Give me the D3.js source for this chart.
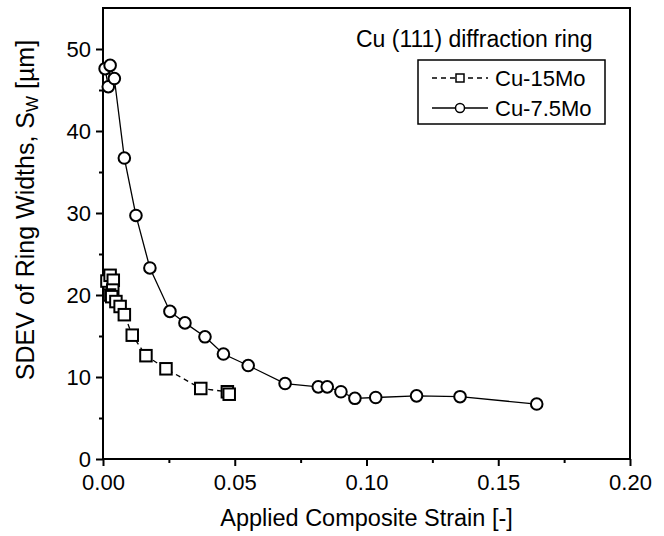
<!DOCTYPE html>
<html>
<head>
<meta charset="utf-8">
<script src="https://cdn.jsdelivr.net/npm/d3@7"></script>
<style>
  body { margin: 0; background: #fff; }
  svg { font-family: "Liberation Sans", Arial, Helvetica, sans-serif; }
</style>
</head>
<body>
<div id="chart"></div>
<script>
// Cu-15Mo (squares, dashed)
const mo15Strain = [0.0015, 0.0027, 0.0039, 0.0037, 0.0025, 0.0033, 0.0049, 0.0065, 0.0081, 0.0111, 0.0163, 0.0239, 0.0371, 0.0472, 0.0479];
const mo15Sdev   = [21.7,   22.4,   21.8,   20.6,   20.0,   19.8,   19.2,   18.6,   17.6,   15.1,   12.6,   11.0,   8.6,    8.2,    7.9];

// Cu-7.5Mo (circles, solid)
const mo75Strain = [0.0008, 0.002, 0.0027, 0.0043, 0.0081, 0.0125, 0.0178, 0.0254, 0.0311, 0.0387, 0.0457, 0.0551, 0.0691, 0.0817, 0.0851, 0.0903, 0.0956, 0.1035, 0.119, 0.1355, 0.1646];
const mo75Sdev   = [47.6,   45.4,  48.0,   46.4,   36.7,   29.7,   23.3,   18.0,   16.6,   14.9,   12.8,   11.4,   9.2,    8.8,    8.8,    8.2,    7.4,    7.5,    7.7,   7.6,    6.7];

const xTicks = [0, 0.05, 0.10, 0.15, 0.20];
const xMinor = [0.025, 0.075, 0.125, 0.175];
const yTicks = [0, 10, 20, 30, 40, 50];
const yMinor = [5, 15, 25, 35, 45];

const W = 664, H = 536;
const m = { left: 103, right: 630, top: 8, bottom: 459 };

const svg = d3.select('#chart').append('svg')
  .attr('width', W).attr('height', H);

const x = d3.scaleLinear().domain([0, 0.2]).range([m.left, m.right]);
const y = d3.scaleLinear().domain([0, 55]).range([m.bottom, m.top]);

// axes
svg.append('g')
  .attr('transform', `translate(0,${m.bottom})`)
  .call(d3.axisBottom(x).tickValues(xTicks).tickSize(7).tickPadding(8).tickFormat(d3.format('.2f')));
svg.append('g')
  .attr('transform', `translate(0,${m.bottom})`)
  .call(d3.axisBottom(x).tickValues(xMinor).tickSize(4).tickFormat(''));

svg.append('g')
  .attr('transform', `translate(${m.left},0)`)
  .call(d3.axisLeft(y).tickValues(yTicks).tickSize(7).tickPadding(5).tickFormat(d3.format('d')));
svg.append('g')
  .attr('transform', `translate(${m.left},0)`)
  .call(d3.axisLeft(y).tickValues(yMinor).tickSize(4).tickFormat(''));

svg.selectAll('.domain').remove();
svg.selectAll('.tick line').attr('stroke', '#000').attr('stroke-width', 2);
svg.selectAll('.tick text').attr('fill', '#000').style('font-size', '22px')
  .style('font-family', '"Liberation Sans", Arial, Helvetica, sans-serif');

// frame
svg.append('rect')
  .attr('x', m.left).attr('y', m.top)
  .attr('width', m.right - m.left).attr('height', m.bottom - m.top)
  .attr('fill', 'none').attr('stroke', '#000').attr('stroke-width', 2);

// axis titles
svg.append('text')
  .attr('x', (m.left + m.right) / 2).attr('y', 526)
  .attr('text-anchor', 'middle')
  .style('font-size', '23.5px')
  .text('Applied Composite Strain [-]');

const yt = svg.append('text')
  .attr('transform', 'translate(34,210) rotate(-90)')
  .attr('text-anchor', 'middle')
  .style('font-size', '25px');
yt.append('tspan').text('SDEV of Ring Widths, S');
yt.append('tspan').attr('baseline-shift', '-25%').style('font-size', '17px').text('W');
yt.append('tspan').text(' [\u00b5m]');

// series
const sq = mo15Strain.map((s, i) => [s, mo15Sdev[i]]);
const ci = mo75Strain.map((s, i) => [s, mo75Sdev[i]]);

const line = d3.line().x(d => x(d[0])).y(d => y(d[1]));

svg.append('path').datum(sq)
  .attr('d', line).attr('fill', 'none').attr('stroke', '#000')
  .attr('stroke-width', 1.3).attr('stroke-dasharray', '5,4');
svg.append('path').datum(ci)
  .attr('d', line).attr('fill', 'none').attr('stroke', '#000')
  .attr('stroke-width', 1.3);

const s = 11.5;
svg.selectAll('.sq').data(sq).join('rect')
  .attr('x', d => x(d[0]) - s / 2).attr('y', d => y(d[1]) - s / 2)
  .attr('width', s).attr('height', s)
  .attr('fill', '#fff').attr('stroke', '#000').attr('stroke-width', 2);

svg.selectAll('.ci').data(ci).join('circle')
  .attr('cx', d => x(d[0])).attr('cy', d => y(d[1])).attr('r', 5.8)
  .attr('fill', '#fff').attr('stroke', '#000').attr('stroke-width', 2);

// legend
svg.append('text')
  .attr('x', 356).attr('y', 47)
  .style('font-size', '23px')
  .text('Cu (111) diffraction ring');

const lg = svg.append('g');
lg.append('rect')
  .attr('x', 418).attr('y', 60).attr('width', 187).attr('height', 64)
  .attr('fill', '#fff').attr('stroke', '#000').attr('stroke-width', 1.5);

const rows = [
  { name: 'Cu-15Mo', dash: '5,4', sym: 'square', cy: 78 },
  { name: 'Cu-7.5Mo', dash: null, sym: 'circle', cy: 108 }
];
rows.forEach(r => {
  lg.append('line')
    .attr('x1', 432).attr('x2', 488).attr('y1', r.cy).attr('y2', r.cy)
    .attr('stroke', '#000').attr('stroke-width', 1.3)
    .attr('stroke-dasharray', r.dash);
  if (r.sym === 'square') {
    lg.append('rect').attr('x', 456).attr('y', r.cy - 4).attr('width', 8).attr('height', 8)
      .attr('fill', '#fff').attr('stroke', '#000').attr('stroke-width', 1.5);
  } else {
    lg.append('circle').attr('cx', 460).attr('cy', r.cy).attr('r', 4.5)
      .attr('fill', '#fff').attr('stroke', '#000').attr('stroke-width', 1.5);
  }
  lg.append('text').attr('x', 495).attr('y', r.cy + 8)
    .style('font-size', '22px').text(r.name);
});
</script>
</body>
</html>
